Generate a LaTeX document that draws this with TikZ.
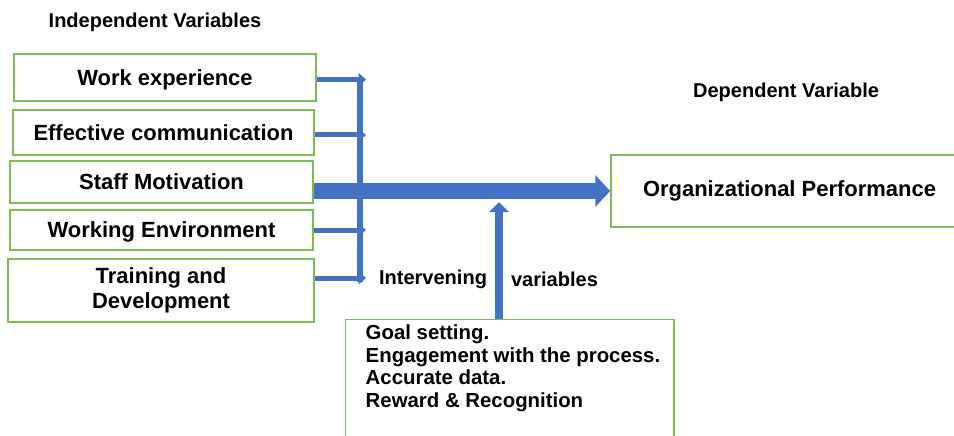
\documentclass[tikz,border=0pt]{standalone}
\usepackage{fontspec}
\setmainfont{Liberation Sans}
\usepackage{tikz}
\usetikzlibrary{arrows.meta}
\definecolor{boxgreen}{RGB}{125,185,85}
\definecolor{arrowblue}{RGB}{68,114,196}
\tikzstyle{varbox} = [draw=boxgreen, line width=0.85pt, fill=white,
    rectangle, align=center, inner sep=0pt, font=\fontsize{12.5}{14.2}\selectfont\bfseries]
\tikzstyle{heading} =[font=\fontsize{11.4}{13}\selectfont\bfseries, inner sep=0pt]
\tikzstyle{branch} = [arrowblue, line width=0.1cm, -{Triangle[length=0.15cm,width=0.26cm]}]
\tikzstyle{bigarrow} = [arrowblue, line width=0.32cm, -{Triangle[length=0.3cm,width=0.62cm]}]
\tikzstyle{uparrow} = [arrowblue, line width=0.16cm, -{Triangle[length=0.2cm,width=0.38cm]}]

\begin{document}
\begin{tikzpicture}
\clip (0,0) rectangle (19.08,-8.72);
\fill[white] (0,0) rectangle (19.08,-8.72);

\node[heading] (indep) at (3.10,-0.44) {Independent Variables};
\node[heading] (dep) at (15.72,-1.84) {Dependent Variable};

\node[varbox, minimum width=6.04cm, minimum height=0.94cm, text depth=0pt] (work) at (3.30,-1.55) {Work experience};
\node[varbox, minimum width=6.02cm, minimum height=0.90cm] (comm) at (3.27,-2.65) {Effective communication};
\node[varbox, minimum width=6.06cm, minimum height=0.84cm] (staff) at (3.23,-3.64) {Staff Motivation};
\node[varbox, minimum width=6.06cm, minimum height=0.80cm, text depth=0pt] (env) at (3.23,-4.60) {Working Environment};
\node[varbox, minimum width=6.12cm, minimum height=1.26cm] (train) at (3.22,-5.81) {Training and\\Development};

\node[varbox, minimum width=7.14cm, minimum height=1.44cm] (org) at (15.79,-3.82) {Organizational Performance};

\node[draw=boxgreen, line width=0.85pt, fill=white, anchor=north west, inner xsep=0pt, inner ysep=0.1cm,
    font=\fontsize{11.6}{12.9}\selectfont\bfseries] (goals) at (6.90,-6.38)
    {\parbox[t][2.6cm][t]{6.56cm}{\raggedright\leftskip=0.4cm Goal setting.\\Engagement with the process.\\Accurate data.\\Reward \& Recognition}};

\node[heading] (interv) at (8.66,-5.58) {Intervening};
\node[heading] (vars) at (11.09,-5.58) {variables};

\coordinate (bartop) at (7.20,-1.54);
\coordinate (barbot) at (7.20,-5.64);
\coordinate (tip) at (7.32,0);
\coordinate (meet) at (9.98,-4.04);

\draw[arrowblue, line width=0.12cm] (bartop) -- (barbot);
\draw[branch] ([yshift=-0.04cm]work.east) -- ([yshift=-0.04cm]work.east -| tip);
\draw[branch] ([yshift=-0.05cm]comm.east) -- ([yshift=-0.05cm]comm.east -| tip);
\draw[branch] (env.east) -- (env.east -| tip);
\draw[branch] ([yshift=0.25cm]train.east) -- ([yshift=0.25cm]train.east -| tip);
\draw[bigarrow] (org.west -| staff.east) -- (org.west);
\draw[uparrow] (meet |- goals.north) -- (meet);
\end{tikzpicture}
\end{document}
